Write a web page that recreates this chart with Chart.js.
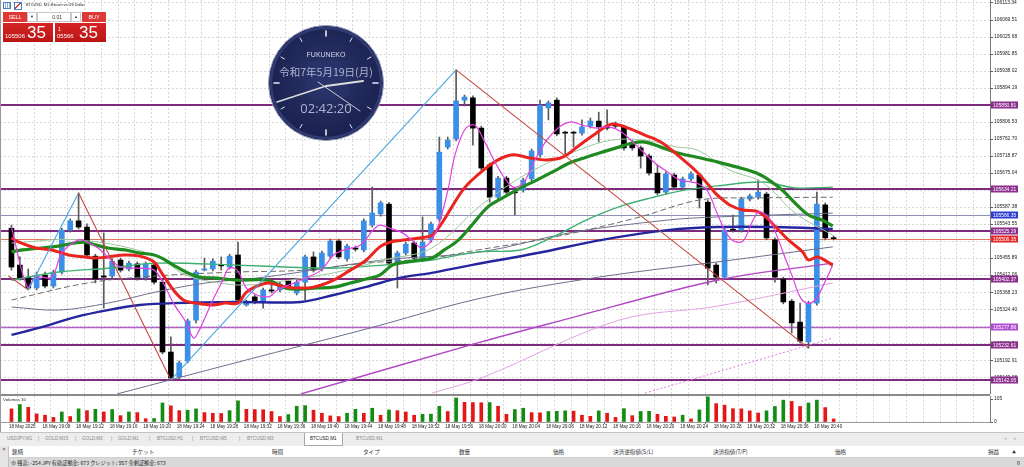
<!DOCTYPE html>
<html>
<head>
<meta charset="utf-8">
<script src="https://cdn.jsdelivr.net/npm/chart.js@4.4.1/dist/chart.umd.min.js"></script>
<style>
html, body { margin: 0; padding: 0; background: #fff; width: 1024px; height: 467px; overflow: hidden; font-family: 'Liberation Sans', Arial, sans-serif; }
#wrap { position: relative; width: 1024px; height: 467px; }
#mainChart { position: absolute; left: 0; top: 0; }
#volChart { position: absolute; left: 0; top: 396px; }
.sep { position: absolute; left: 0; top: 394px; width: 990px; height: 2px; background: #8a8a8a; }
.leftEdge { position: absolute; left: 0; top: 0; width: 1px; height: 432px; background: #9a9a9a; }
#title { position: absolute; left: 0; top: 0; height: 10px; }
#title .ttl { position: absolute; left: 26px; top: 3px; font-size: 3.8px; color: #222; white-space: nowrap; }
.ico1 { position: absolute; left: 3px; top: 2px; width: 6px; height: 5px; border: 1px solid #4a7fc0; background: repeating-linear-gradient(90deg, #fff 0 1px, #8fb0dc 1px 2px); }
.ico2 { position: absolute; left: 14px; top: 2px; width: 6px; height: 6px; border: 1px solid #4a7fc0; background: linear-gradient(135deg, #fff 40%, #d04040 40% 55%, #fff 55%); }
#oc { position: absolute; left: 2px; top: 11px; width: 104px; height: 32px; }
#oc div { position: absolute; box-sizing: border-box; }
.btn { top: 1px; height: 10px; background: #dd3a36; color: #fff; font-size: 5.4px; line-height: 10px; text-align: center; }
.sell { left: 1px; width: 24px; }
.buy { left: 80px; width: 24px; }
.arr { top: 1px; height: 10px; width: 10px; background: #fff; border: 1px solid #c8c8c8; color: #333; font-size: 4px; line-height: 8px; text-align: center; }
.dn { left: 25px; }
.up { left: 69px; }
.lot { left: 35px; top: 1px; width: 34px; height: 10px; background: #fff; border: 1px solid #c8c8c8; color: #333; font-size: 5px; line-height: 8px; text-align: right; padding-right: 8px; }
.px { top: 12px; height: 19px; background: linear-gradient(#d62424, #b81515); color: #fff; }
.pl { left: 1px; width: 50px; }
.pr { left: 53px; width: 51px; }
.px span { position: absolute; white-space: nowrap; }
.sm { left: 2px; top: 10px; font-size: 6px; }
.sm1 { left: 3px; top: 3px; font-size: 5px; }
.big { left: 24px; top: 0px; font-size: 17px; line-height: 19px; }
#clock { position: absolute; left: 266px; top: 24px; }
#tabs { position: absolute; left: 0; top: 432px; width: 1024px; height: 14px; background: #ededed; border-top: 1px solid #c4c4c4; box-sizing: border-box; }
#tabs span { position: absolute; top: 3px; font-size: 4.6px; color: #8a8a8a; white-space: nowrap; }
#tabs .act { top: 0; height: 13px; background: #fff; border: 1px solid #a8a8a8; border-top: none; color: #222; line-height: 12px; padding: 0 5px; box-sizing: border-box; }
#tbl { position: absolute; left: 0; top: 446px; width: 1024px; height: 21px; }
#tbl .hdr { position: absolute; left: 9px; top: 0; width: 1015px; height: 12px; background: #fff; border-bottom: 1px solid #d0d0d0; box-sizing: border-box; }
#tbl .row { position: absolute; left: 9px; top: 12px; width: 1015px; height: 9px; background: #d9d9d9; }
#tbl .side { position: absolute; left: 0; top: 0; width: 9px; height: 21px; background: #e4e4e4; border-right: 1px solid #c0c0c0; box-sizing: border-box; font-size: 5px; color: #333; text-align: center; }
#tbl span { position: absolute; white-space: nowrap; font-family: 'Noto Sans CJK JP', 'Liberation Sans', sans-serif; color: #333; }
#tbl .hdr span { top: 2px; font-size: 5.6px; }
#tbl .row span { top: 1px; font-size: 5.2px; color: #222; }
#volTitle { position: absolute; left: 3px; top: 397px; font-size: 4.4px; color: #222; }
</style>
</head>
<body>
<div id="wrap">
  <canvas id="mainChart" width="1024" height="394"></canvas>
  <canvas id="volChart" width="1024" height="36"></canvas>
  <div class="sep"></div>
  <div class="leftEdge"></div>
  <div id="volTitle">Volumes 10</div>

  <div id="title">
    <span class="ico1"></span><span class="ico2"></span>
    <span class="ttl">BTCUSD, M1: Bitcoin vs US Dollar</span>
  </div>

  <div id="oc">
    <div class="btn sell">SELL</div>
    <div class="arr dn">▼</div>
    <div class="lot">0.01</div>
    <div class="arr up">▲</div>
    <div class="btn buy">BUY</div>
    <div class="px pl"><span class="sm">105506</span><span class="big">35</span></div>
    <div class="px pr"><span class="sm1">1</span><span class="sm">05566</span><span class="big">35</span></div>
  </div>

  <svg id="clock" width="120" height="120" viewBox="0 0 120 120">
    <defs>
      <radialGradient id="cg" cx="50%" cy="45%" r="55%">
        <stop offset="0" stop-color="#2b3569"/>
        <stop offset="1" stop-color="#1a2150"/>
      </radialGradient>
    </defs>
    <circle cx="60" cy="59" r="57.5" fill="url(#cg)" stroke="#9aa0c0" stroke-width="1"/>
    <circle cx="60" cy="59" r="55" fill="none" stroke="#313b72" stroke-width="2.5"/>
    <path d="M40 40 Q60 30 80 42 L84 70 Q62 84 38 70 Z" fill="#2a3470" opacity="0.55"/>
    <g stroke="#e6e8f2" stroke-linecap="round">
      <line x1="60" y1="7" x2="60" y2="12" stroke-width="1.6"/>
      <line x1="112" y1="59" x2="107" y2="59" stroke-width="1.6"/>
      <line x1="60" y1="111" x2="60" y2="106" stroke-width="1.6"/>
      <line x1="8" y1="59" x2="13" y2="59" stroke-width="1.6"/>
      <line x1="86" y1="14" x2="84" y2="17.5" stroke-width="1"/>
      <line x1="105" y1="33" x2="101.5" y2="35" stroke-width="1"/>
      <line x1="105" y1="85" x2="101.5" y2="83" stroke-width="1"/>
      <line x1="86" y1="104" x2="84" y2="100.5" stroke-width="1"/>
      <line x1="34" y1="104" x2="36" y2="100.5" stroke-width="1"/>
      <line x1="15" y1="85" x2="18.5" y2="83" stroke-width="1"/>
      <line x1="15" y1="33" x2="18.5" y2="35" stroke-width="1"/>
      <line x1="34" y1="14" x2="36" y2="17.5" stroke-width="1"/>
    </g>
    <text x="60" y="32.5" text-anchor="middle" font-family="Liberation Sans, Arial, sans-serif" font-size="7" fill="#d4d8ea">FUKUNEKO</text>
    <text x="60" y="51.5" text-anchor="middle" font-family="Noto Sans CJK JP, sans-serif" font-size="10.5" fill="#aeb4d2">令和7年5月19日(月)</text>
    <text x="60" y="89" text-anchor="middle" font-family="Open Sans, Liberation Sans, sans-serif" font-size="13" fill="#aeb4d2">02:42:20</text>
    <g stroke="#dcdcdc" stroke-linecap="round">
      <line x1="60" y1="62" x2="11" y2="78" stroke-width="1.6"/>
      <line x1="60" y1="62" x2="97" y2="57" stroke-width="2"/>
      <line x1="52" y1="58" x2="94" y2="87" stroke-width="0.9"/>
    </g>
  </svg>

  <div id="tabs">
    <span style="left:7px">USDJPY,M1</span>
    <span style="left:38px">|</span>
    <span style="left:45px">GOLD,M15</span>
    <span style="left:75px">|</span>
    <span style="left:82px">GOLD,M3</span>
    <span style="left:111px">|</span>
    <span style="left:118px">GOLD,M1</span>
    <span style="left:149px">|</span>
    <span style="left:157px">BTCUSD,H1</span>
    <span style="left:192px">|</span>
    <span style="left:200px">BTCUSD,M5</span>
    <span style="left:239px">|</span>
    <span style="left:247px">BTCUSD,M3</span>
    <span class="act" style="left:304px">BTCUSD,M1</span>
    <span style="left:356px">BTCUSD,M1</span>
    <span style="left:1004px;color:#bbb">◂</span>
    <span style="left:1014px;color:#bbb">▸</span>
  </div>

  <div id="tbl">
    <div class="side">×</div>
    <div class="hdr">
      <span style="left:3px">銘柄</span>
      <span style="left:123px">チケット</span>
      <span style="left:263px">時間</span>
      <span style="left:354px">タイプ</span>
      <span style="left:450px">数量</span>
      <span style="left:544px">価格</span>
      <span style="left:604px">決済逆指値(S/L)</span>
      <span style="left:704px">決済指値(T/P)</span>
      <span style="left:826px">価格</span>
      <span style="left:979px">損益</span>
      <span style="left:1003px;font-size:4px;top:3px">▲</span>
    </div>
    <div class="row">
      <span style="left:2px">⊕ 残高: -254 JPY  有効証拠金: 673  クレジット: 957  余剰証拠金: 673</span>
      <span style="left:1008px">0</span>
    </div>
  </div>
</div>

<script>
// --- candles, BTCUSD M1, 18 May 19:04 .. 20:42 (one entry per minute)
const open = [105533,105438,105407,105379,105412,105384,105420,105528,105552,105536,
  105461,105410,105410,105451,105428,105441,105405,105438,105394,105214,
  105150,105191,105296,105425,105428,105438,105433,105464,105335,105356,
  105343,105374,105374,105397,105366,105394,105459,105428,105461,105500,
  105454,105482,105477,105541,105570,105595,105443,105469,105495,105454,
  105503,105557,105742,105763,105863,105869,105791,105696,105613,105662,
  105624,105631,105660,105722,105843,105863,105778,105778,105778,105796,
  105809,105791,105799,105794,105753,105740,105719,105675,105626,105670,
  105639,105660,105670,105600,105438,105407,105528,105528,105608,105613,
  105621,105503,105402,105345,105291,105240,105340,105593,105508];
const high = [105541,105459,105428,105420,105420,105425,105533,105557,105624,105544,
  105466,105521,105454,105456,105448,105446,105446,105443,105399,105253,
  105191,105299,105425,105456,105454,105459,105466,105497,105348,105361,
  105379,105387,105394,105402,105399,105464,105472,105474,105505,105505,
  105492,105487,105557,105639,105603,105600,105474,105497,105500,105562,
  105549,105768,105768,105941,105876,105874,105796,105701,105667,105667,
  105629,105662,105737,105863,105861,105869,105783,105783,105812,105817,
  105832,105838,105807,105799,105760,105745,105724,105696,105678,105675,
  105665,105678,105675,105606,105443,105533,105567,105613,105621,105657,
  105626,105508,105407,105350,105340,105345,105626,105598,105513];
const low = [105425,105399,105374,105374,105379,105379,105415,105523,105531,105459,
  105392,105327,105405,105420,105423,105399,105399,105389,105209,105142,
  105144,105186,105289,105423,105423,105425,105428,105343,105332,105338,
  105327,105366,105369,105376,105361,105348,105420,105423,105456,105454,
  105448,105474,105472,105536,105564,105438,105379,105464,105451,105448,
  105497,105551,105737,105758,105848,105747,105683,105600,105608,105621,
  105567,105626,105655,105716,105812,105771,105724,105742,105773,105791,
  105755,105786,105791,105734,105734,105688,105670,105619,105621,105634,
  105634,105655,105585,105387,105392,105402,105523,105523,105603,105608,
  105503,105394,105338,105263,105237,105224,105335,105503,105503];
const close = [105433,105405,105379,105412,105384,105420,105528,105552,105536,105464,
  105402,105407,105448,105425,105443,105405,105441,105394,105214,105147,
  105186,105294,105420,105428,105448,105436,105461,105348,105343,105343,
  105374,105371,105389,105381,105394,105459,105425,105469,105500,105459,
  105487,105479,105552,105572,105598,105443,105469,105492,105456,105497,
  105544,105729,105760,105861,105871,105791,105688,105613,105662,105626,
  105624,105657,105732,105850,105856,105776,105778,105778,105794,105809,
  105794,105791,105796,105740,105740,105719,105675,105624,105673,105639,
  105660,105673,105611,105430,105407,105528,105528,105608,105616,105626,
  105508,105407,105343,105289,105242,105340,105595,105508,105506];
const volume = [60,80,67,37,31,21,46,25,60,52,
  58,46,57,29,46,43,15,16,87,74,
  52,54,60,43,40,39,52,97,58,57,
  56,48,25,34,72,75,54,40,28,25,
  40,58,40,63,31,55,52,46,31,35,
  36,72,48,110,90,89,88,89,72,35,
  57,63,43,42,48,49,51,50,31,26,
  51,40,21,61,29,48,49,35,26,23,
  31,14,55,115,84,77,61,60,51,41,
  51,71,100,94,71,87,100,66,14];

// time labels under the volume window, one every 4 bars
const timeLabels = ['18 May 2025','18 May 19:08','18 May 19:12','18 May 19:16','18 May 19:20','18 May 19:24',
  '18 May 19:28','18 May 19:32','18 May 19:36','18 May 19:40','18 May 19:44','18 May 19:48','18 May 19:52',
  '18 May 19:56','18 May 20:00','18 May 20:04','18 May 20:08','18 May 20:12','18 May 20:16','18 May 20:20',
  '18 May 20:24','18 May 20:28','18 May 20:32','18 May 20:36','18 May 20:40'];

// right price scale
const priceTicks = [106113.34,106069.51,106025.68,105981.85,105938.02,105894.19,105850.36,105806.53,
  105762.70,105718.87,105675.04,105631.21,105587.38,105543.55,105499.72,105455.89,105412.06,105368.23,
  105324.40,105280.57,105236.74,105192.91,105149.08];
const volumeTicks = [0, 105];

// horizontal levels (lines with price tags)
const levelPrices = [105850.81,105634.21,105566.35,105525.29,105506.35,105402.37,105277.86,105232.61,105142.05];
const levelKinds  = ['sr','sr','ask','sr','bid','sr','sr2','sr','sr'];

// zigzag swing points: bar index / price
const zigzagIdx   = [-0.35, 2, 8, 19, 53, 95];
const zigzagPrice = [105410, 105374, 105624, 105142, 105941, 105224];

// indicator lines: [bar index, price]
const maFast = [[0,105536],[1.9,105381],[2.9,105407],[4.8,105407],[6,105469],[8,105503],[9.1,105497],[10.3,105482],
  [11.5,105459],[13,105433],[15.3,105430],[17,105425],[18.1,105392],[19.3,105340],[20.8,105291],[21.7,105250],
  [22.4,105271],[24,105348],[25.2,105399],[25.9,105430],[26.9,105425],[28.2,105374],[30.6,105356],[31.7,105374],
  [34.5,105399],[36.9,105425],[38.4,105464],[39.6,105477],[41.6,105490],[43.1,105528],[43.9,105541],[45.1,105533],
  [46.6,105521],[48,105497],[48.9,105482],[50.1,105503],[51.1,105554],[52.1,105639],[52.8,105716],[54,105786],
  [55.2,105799],[56.3,105760],[57.5,105709],[58.7,105665],[59.8,105639],[61,105649],[62.2,105701],[63.8,105760],
  [65.3,105794],[66.7,105807],[68,105799],[69.7,105791],[71.2,105794],[72.7,105781],[74.7,105742],[76.7,105701],
  [78.2,105678],[79.7,105657],[81.7,105649],[82.9,105631],[84.1,105572],[85.2,105521],[86.1,105500],[87.2,105500],
  [88.4,105554],[89.1,105575],[90.2,105562],[91.1,105521],[92,105469],[93.1,105407],[94,105356],[94.8,105340],
  [95.8,105348],[96.9,105392],[97.9,105438]];
const maRed = [[0,105508],[0.9,105497],[2.9,105482],[4.8,105477],[6.8,105464],[8.8,105459],[10,105456],[11.5,105459],
  [13.5,105464],[15.3,105461],[17,105446],[17.9,105418],[19.3,105374],[20.5,105348],[22,105340],[24,105335],
  [25.5,105340],[27,105340],[27.9,105366],[29,105381],[30.6,105392],[32.2,105384],[33.7,105379],[36,105381],
  [38.4,105399],[40.4,105425],[42.3,105451],[43.9,105485],[45.1,105497],[47,105503],[48.6,105508],[50.1,105515],
  [51.3,105546],[52.5,105588],[54,105637],[56,105678],[58,105709],[59.8,105722],[61.8,105714],[63.8,105709],
  [65.7,105716],[67.7,105747],[69.7,105778],[71.5,105801],[73.5,105791],[75.5,105773],[77.4,105755],[79.7,105716],
  [81.7,105678],[83.3,105639],[84.1,105619],[85.6,105593],[87.2,105580],[88.8,105577],[89.9,105562],[91.1,105536],
  [92.6,105503],[94.3,105472],[95,105451],[96.1,105459],[97.9,105438]];
const maGreen = [[0,105472],[1.3,105477],[3.6,105482],[5.6,105487],[7.6,105495],[8.8,105497],[10,105490],[11.5,105482],
  [13.5,105477],[15.3,105469],[17,105464],[18.1,105454],[19.3,105438],[20.8,105420],[22.4,105407],[24,105405],
  [25.5,105402],[27,105399],[30.6,105399],[32.6,105379],[34.5,105376],[36.4,105379],[38.4,105381],[40.4,105392],
  [42.3,105402],[43.9,105412],[45.4,105438],[47,105446],[48.6,105451],[50.1,105456],[51.6,105477],[53.3,105503],
  [54.8,105539],[56.8,105588],[58.7,105613],[60.7,105637],[62.6,105657],[64.5,105678],[66.5,105701],[68.5,105716],
  [70.4,105729],[72.4,105742],[73.9,105752],[75.5,105755],[77.4,105742],[79.4,105727],[81.7,105716],[84.1,105704],
  [86.4,105691],[88.8,105675],[90.3,105657],[91.9,105631],[93.4,105598],[95,105567],[96.6,105554],[97.9,105539]];
const maLightGreen = [[0,105495],[8,105503],[17,105464],[20.8,105412],[26.7,105387],[30.6,105392],[38.4,105418],
  [44.3,105451],[50.1,105482],[56,105593],[61.8,105678],[67.7,105735],[71.5,105760],[75.5,105760],[79.4,105742],
  [81.7,105735],[85.6,105683],[89.6,105650],[93.4,105572],[97.9,105515]];
const maSea = [[0,105399],[5.6,105420],[11.5,105430],[17.3,105443],[26.7,105438],[32.6,105433],[38.4,105430],
  [44.3,105438],[50.1,105451],[55.6,105472],[60.7,105477],[64.5,105510],[68.5,105554],[72.4,105588],[76.2,105611],
  [80.2,105631],[84.1,105642],[89.6,105652],[93.4,105637],[97.9,105639]];
const maDashed = [[0,105348],[9.1,105392],[17.3,105410],[26.7,105420],[34.9,105425],[42.3,105443],[50.1,105456],
  [55.6,105477],[64.2,105508],[74.4,105559],[82.1,105606],[88.8,105611],[97.9,105613]];
const maBlue = [[0,105258],[3.6,105278],[7.6,105304],[11.5,105322],[15.3,105335],[19.3,105340],[27,105343],
  [34.5,105343],[38.4,105361],[42.3,105382],[46.3,105405],[50.1,105418],[54.8,105438],[62.7,105469],[70.4,105503],
  [78.2,105528],[84.1,105536],[91.1,105536],[97.9,105531]];
const maSlate = [[0,105330],[5.6,105322],[11.5,105340],[17.3,105369],[23.2,105392],[30.2,105407],[44.3,105451],
  [56,105472],[66.5,105521],[78.2,105554],[84.1,105562],[97.9,105572]];
const maSlateLong = [[12.6,105106],[27.9,105193],[41.9,105271],[56,105353],[70,105407],[84.1,105446],[97.9,105485]];
const maPurple = [[34.5,105106],[56,105240],[65.7,105296],[84.1,105399],[97.9,105443]];
const maPink = [[50.1,105108],[56,105147],[72.4,105296],[84.1,105332],[97.9,105392]];
const maPinkDot = [[75.5,105108],[81.7,105147],[97.9,105250]];

// ---- layout of the two windows
const X_MIN = -0.35, X_MAX = 115.62;
const Y_MIN = 105105.8, Y_MAX = 106121.07;
const AXIS_W = 34;
const FONT = "'Liberation Sans', Arial, sans-serif";
Chart.defaults.font.family = FONT;

const gridTicks = [];
for (let v = -0.3; v < X_MAX - 0.5; v += 2) gridTicks.push(Math.round(v * 10) / 10);

const levelStyles = {
  sr:  { line: '#7d2b7d', width: 2,   tag: '#8c2f8c' },
  sr2: { line: '#b562c8', width: 1.5, tag: '#b04ed0' },
  ask: { line: '#8e90b8', width: 1,   tag: '#2c3fd4' },
  bid: { line: '#e2765f', width: 1,   tag: '#e22828' }
};

const levelsPlugin = {
  id: 'levels',
  beforeDatasetsDraw(chart) {
    const { ctx, chartArea, scales: { y } } = chart;
    levelPrices.forEach((p, k) => {
      const st = levelStyles[levelKinds[k]];
      const py = Math.round(y.getPixelForValue(p)) + (st.width === 2 ? 0 : 0.5);
      ctx.save();
      ctx.strokeStyle = st.line;
      ctx.lineWidth = st.width;
      ctx.beginPath();
      ctx.moveTo(chartArea.left, py);
      ctx.lineTo(chartArea.right + 2, py);
      ctx.stroke();
      ctx.restore();
    });
  },
  afterDraw(chart) {
    const { ctx, chartArea, scales: { y } } = chart;
    levelPrices.forEach((p, k) => {
      const st = levelStyles[levelKinds[k]];
      const py = Math.round(y.getPixelForValue(p));
      ctx.save();
      ctx.fillStyle = st.tag;
      ctx.fillRect(chartArea.right + 1, py - 3.5, 27, 7);
      ctx.fillStyle = '#fff';
      ctx.font = '4.9px ' + FONT;
      ctx.textBaseline = 'middle';
      ctx.fillText(p.toFixed(2), chartArea.right + 3, py + 0.3);
      ctx.restore();
    });
  }
};

function line(points, color, width, order, dash) {
  return {
    type: 'line',
    data: points.map(([x, y]) => ({ x, y })),
    borderColor: color,
    borderWidth: width,
    borderDash: dash || [],
    pointRadius: 0,
    tension: 0.35,
    fill: false,
    order
  };
}

const bodies = open.map((o, i) => ({ x: i, y: [o, close[i]] }));
const wicks = high.map((h, i) => ({ x: i, y: [low[i], h] }));
const bodyColors = open.map((o, i) => close[i] > o ? '#3b8fe6' : '#000000');

new Chart(document.getElementById('mainChart'), {
  type: 'bar',
  data: {
    datasets: [
      {
        type: 'line',
        data: zigzagIdx.map((x, k) => ({ x, y: zigzagPrice[k] })),
        borderWidth: 1.1,
        pointRadius: 0,
        tension: 0,
        segment: { borderColor: c => c.p1.parsed.y > c.p0.parsed.y ? '#4aa6e0' : '#c4463e' },
        order: 0
      },
      line(maFast, '#e040e0', 1.2, 1),
      line(maRed, '#ea2520', 3, 2),
      line(maGreen, '#1f8a1f', 3.2, 3),
      line(maLightGreen, '#9cc79c', 1, 4),
      line(maSea, '#3fb072', 1.4, 5),
      line(maDashed, '#6c6c6c', 1, 6, [6, 3]),
      line(maBlue, '#25259e', 2.4, 7),
      line(maSlate, '#6e7290', 1, 8),
      line(maSlateLong, '#6e6e8e', 1, 9),
      line(maPurple, '#b247c4', 1.4, 10),
      line(maPink, '#e2a4e2', 1, 11),
      line(maPinkDot, '#e07ae0', 1, 12, [2, 2]),
      {
        data: bodies,
        backgroundColor: bodyColors,
        borderWidth: 0,
        barThickness: 5,
        minBarLength: 1,
        grouped: false,
        order: 20
      },
      {
        data: wicks,
        backgroundColor: '#5a5a5a',
        borderWidth: 0,
        barThickness: 1,
        grouped: false,
        order: 21
      }
    ]
  },
  options: {
    responsive: false,
    animation: false,
    events: [],
    layout: { padding: 0 },
    plugins: { legend: { display: false }, tooltip: { enabled: false } },
    scales: {
      x: {
        type: 'linear',
        min: X_MIN,
        max: X_MAX,
        afterBuildTicks: s => { s.ticks = gridTicks.map(v => ({ value: v })); },
        ticks: { display: false },
        grid: { color: '#d6d6d6', drawTicks: false },
        border: { display: false, dash: [2, 2] },
        afterFit: s => { s.height = 0; s.paddingLeft = 0; s.paddingRight = 0; }
      },
      y: {
        position: 'right',
        min: Y_MIN,
        max: Y_MAX,
        afterBuildTicks: s => { s.ticks = priceTicks.map(v => ({ value: v })); },
        ticks: {
          autoSkip: false,
          padding: 1,
          color: '#222',
          font: { size: 4.9 },
          callback: v => Number(v).toFixed(2)
        },
        grid: { color: '#d6d6d6', tickLength: 3, tickColor: '#555' },
        border: { display: true, color: '#7a7a7a', dash: [2, 2] },
        afterFit: s => { s.width = AXIS_W; s.paddingTop = 0; s.paddingBottom = 0; }
      }
    }
  },
  plugins: [levelsPlugin]
});

new Chart(document.getElementById('volChart'), {
  type: 'bar',
  data: {
    datasets: [{
      data: volume.map((v, i) => ({ x: i, y: v })),
      backgroundColor: volume.map((v, i) => i > 0 && v > volume[i - 1] ? '#138c13' : '#e41616'),
      borderWidth: 0,
      barThickness: 3,
      grouped: false
    }]
  },
  options: {
    responsive: false,
    animation: false,
    events: [],
    layout: { padding: 0 },
    plugins: { legend: { display: false }, tooltip: { enabled: false } },
    scales: {
      x: {
        type: 'linear',
        min: X_MIN,
        max: X_MAX,
        afterBuildTicks: s => { s.ticks = gridTicks.map(v => ({ value: v })); },
        ticks: {
          autoSkip: false,
          maxRotation: 0,
          align: 'start',
          padding: 0,
          color: '#222',
          font: { size: 4.6 },
          callback: (v, idx) => (idx % 2 === 0 && idx / 2 < timeLabels.length) ? timeLabels[idx / 2] : ''
        },
        grid: {
          color: '#dadada',
          tickLength: 2,
          tickColor: c => (c.index % 2 === 0 && c.index / 2 < timeLabels.length) ? '#555' : 'rgba(0,0,0,0)'
        },
        border: { display: true, color: '#9a9a9a', dash: [2, 2] },
        afterFit: s => { s.height = 10; s.paddingLeft = 0; s.paddingRight = 0; }
      },
      y: {
        position: 'right',
        min: 0,
        max: 119,
        afterBuildTicks: s => { s.ticks = volumeTicks.map(v => ({ value: v })); },
        ticks: { autoSkip: false, padding: 1, color: '#222', font: { size: 4.9 } },
        grid: { display: true, drawOnChartArea: false, tickLength: 3, tickColor: '#555' },
        border: { display: true, color: '#7a7a7a' },
        afterFit: s => { s.width = AXIS_W; s.paddingTop = 0; s.paddingBottom = 0; }
      }
    }
  }
});
</script>
</body>
</html>
